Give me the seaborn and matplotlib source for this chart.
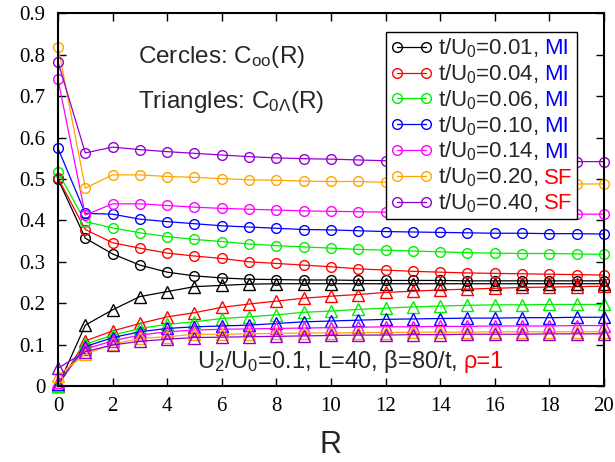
import matplotlib
matplotlib.use("Agg")
import matplotlib.pyplot as plt
from matplotlib.ticker import FuncFormatter
from matplotlib.offsetbox import TextArea
import seaborn as sns

# data
R = list(range(21))
t_vals = ["0.01", "0.04", "0.06", "0.10", "0.14", "0.20", "0.40"]
phases = ["MI", "MI", "MI", "MI", "MI", "SF", "SF"]
phase_colors = {"MI": "#0000ff", "SF": "#ff0000"}
colors = ["#000000", "#ff0000", "#00ee00", "#0000ff", "#ff00ff", "#ffa500", "#9400d3"]

# circles: C_oo(R)
coo_001 = [0.500, 0.357, 0.319, 0.292, 0.275, 0.266, 0.261, 0.258, 0.257, 0.256, 0.256,
           0.255, 0.255, 0.255, 0.255, 0.254, 0.254, 0.254, 0.254, 0.254, 0.254]
coo_004 = [0.502, 0.378, 0.346, 0.333, 0.321, 0.314, 0.308, 0.300, 0.296, 0.292, 0.288,
           0.283, 0.280, 0.277, 0.275, 0.273, 0.272, 0.271, 0.270, 0.269, 0.268]
coo_006 = [0.516, 0.397, 0.382, 0.370, 0.361, 0.354, 0.349, 0.343, 0.339, 0.336, 0.333,
           0.330, 0.328, 0.326, 0.324, 0.322, 0.321, 0.320, 0.320, 0.319, 0.318]
coo_010 = [0.574, 0.417, 0.415, 0.403, 0.397, 0.392, 0.387, 0.384, 0.381, 0.378, 0.377,
           0.375, 0.373, 0.372, 0.371, 0.370, 0.369, 0.369, 0.368, 0.368, 0.367]
coo_014 = [0.741, 0.413, 0.440, 0.440, 0.436, 0.432, 0.429, 0.427, 0.425, 0.423, 0.422,
           0.421, 0.420, 0.419, 0.418, 0.417, 0.417, 0.416, 0.416, 0.415, 0.415]
coo_020 = [0.820, 0.478, 0.510, 0.510, 0.506, 0.504, 0.501, 0.498, 0.497, 0.495, 0.494,
           0.494, 0.492, 0.491, 0.490, 0.490, 0.489, 0.489, 0.488, 0.488, 0.488]
coo_040 = [0.783, 0.563, 0.577, 0.571, 0.566, 0.562, 0.558, 0.554, 0.551, 0.549, 0.548,
           0.546, 0.544, 0.544, 0.543, 0.543, 0.543, 0.542, 0.542, 0.542, 0.542]

# triangles: C_0Lambda(R)
c0l_001 = [0.000, 0.147, 0.184, 0.216, 0.228, 0.240, 0.243, 0.246, 0.247, 0.247, 0.247,
           0.247, 0.247, 0.247, 0.247, 0.247, 0.247, 0.247, 0.247, 0.247, 0.247]
c0l_004 = [0.000, 0.109, 0.133, 0.151, 0.167, 0.177, 0.190, 0.198, 0.205, 0.212, 0.217,
           0.221, 0.226, 0.229, 0.232, 0.234, 0.236, 0.238, 0.239, 0.240, 0.241]
c0l_006 = [0.000, 0.101, 0.123, 0.139, 0.149, 0.155, 0.163, 0.167, 0.172, 0.178, 0.181,
           0.185, 0.188, 0.191, 0.193, 0.195, 0.196, 0.196, 0.197, 0.197, 0.197]
c0l_010 = [0.005, 0.095, 0.117, 0.131, 0.139, 0.143, 0.145, 0.147, 0.151, 0.155, 0.157,
           0.159, 0.161, 0.162, 0.163, 0.164, 0.164, 0.165, 0.165, 0.166, 0.166]
c0l_014 = [0.010, 0.089, 0.109, 0.123, 0.131, 0.135, 0.137, 0.138, 0.139, 0.140, 0.141,
           0.142, 0.143, 0.143, 0.144, 0.144, 0.145, 0.145, 0.145, 0.146, 0.146]
c0l_020 = [0.025, 0.077, 0.101, 0.115, 0.119, 0.125, 0.125, 0.126, 0.127, 0.128, 0.128,
           0.129, 0.129, 0.130, 0.130, 0.130, 0.131, 0.131, 0.131, 0.131, 0.131]
c0l_040 = [0.043, 0.083, 0.099, 0.108, 0.113, 0.117, 0.118, 0.119, 0.120, 0.121, 0.122,
           0.123, 0.123, 0.124, 0.124, 0.125, 0.125, 0.125, 0.126, 0.126, 0.126]

circles = [coo_001, coo_004, coo_006, coo_010, coo_014, coo_020, coo_040]
triangles = [c0l_001, c0l_004, c0l_006, c0l_010, c0l_014, c0l_020, c0l_040]

sns.set_style("ticks")
plt.rcParams["font.family"] = ["Liberation Sans", "DejaVu Sans"]
plt.rcParams["mathtext.default"] = "regular"

fig, ax = plt.subplots(figsize=(6.15, 4.62), dpi=100)
fig.subplots_adjust(left=0.0943, right=0.982, bottom=0.1645, top=0.971)

circle_lines = []
for i in range(len(t_vals)):
    sns.lineplot(x=R, y=triangles[i], color=colors[i], marker="^", markersize=8,
                 markerfacecolor="none", markeredgecolor=colors[i], markeredgewidth=1.0,
                 linewidth=0.9, clip_on=False, ax=ax)
for i in range(len(t_vals)):
    sns.lineplot(x=R, y=circles[i], color=colors[i], marker="o", markersize=7,
                 markerfacecolor="none", markeredgecolor=colors[i], markeredgewidth=1.0,
                 linewidth=0.9, clip_on=False, ax=ax)
    circle_lines.append(ax.get_lines()[-1])

ax.set_xlim(0, 20)
ax.set_ylim(0, 0.9)
ax.set_xticks(range(0, 21, 2))
ax.set_yticks([i / 10 for i in range(10)])
ax.yaxis.set_major_formatter(FuncFormatter(lambda v, p: "0" if v == 0 else f"{v:.1f}"))
ax.tick_params(direction="in", top=True, right=True, length=6, width=1.0,
               labelsize=15, labelfontfamily="Liberation Serif", colors="black")
ax.tick_params(axis="x", pad=8)
ax.tick_params(axis="y", pad=9)
for s in ax.spines.values():
    s.set_linewidth(1.5)
    s.set_color("black")
ax.set_xlabel("R", fontsize=22, labelpad=10)
ax.set_ylabel("")

# legend: black "t/U0=..," part, coloured phase appended in the same row
labels = [f"t/U$_0$={t}," for t in t_vals]
leg = ax.legend(circle_lines, labels, loc="upper right", bbox_to_anchor=(0.951, 0.950),
                borderaxespad=0, numpoints=2, handlelength=1.9, handletextpad=0.25,
                labelspacing=0.1, borderpad=0.2, fontsize=16, frameon=True,
                fancybox=False, edgecolor="black", framealpha=1)
leg.get_frame().set_linewidth(1.0)
rows = [row for col in leg._legend_handle_box.get_children() for row in col.get_children()]
for row, p in zip(rows, phases):
    tail = TextArea(p, textprops=dict(color=phase_colors[p], fontproperties=leg.prop,
                                      va="baseline", ha="left"))
    tail.set_figure(fig)
    row.get_children().append(tail)

ax.text(0.147, 0.867, "Cercles: C$_{oo}$(R)", transform=ax.transAxes, fontsize=17.5, va="baseline")
ax.text(0.147, 0.746, "Triangles: C$_{0\\Lambda}$(R)", transform=ax.transAxes, fontsize=17.5, va="baseline")
info = ax.text(0.254, 0.048, "U$_2$/U$_0$=0.1, L=40, β=80/t,", transform=ax.transAxes,
               fontsize=17, va="baseline")

# red rho=1 placed right after the black part, on the same baseline
fig.canvas.draw()
renderer = fig.canvas.get_renderer()
prop = info.get_fontproperties()
_, _, d = renderer.get_text_width_height_descent(info.get_text(), prop, ismath=True)
_, _, lp_d = renderer.get_text_width_height_descent("lp", prop, ismath=False)
space = renderer.points_to_pixels(prop.get_size_in_points()) * 0.278
ax.annotate("ρ=1", xy=(1, 0), xycoords=info, xytext=(space, max(d, lp_d)),
            textcoords="offset pixels", ha="left", va="baseline", color="#ff0000",
            fontproperties=prop)

fig.savefig("out.png", dpi=100)
